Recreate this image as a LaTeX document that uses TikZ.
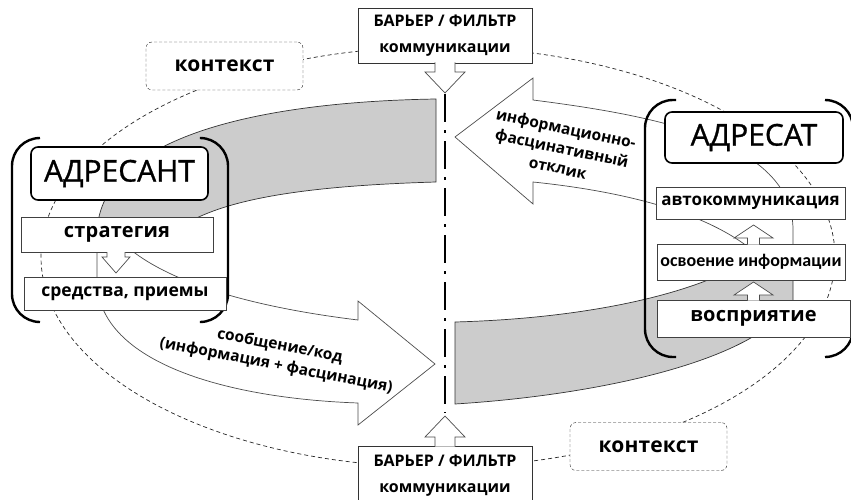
\documentclass[tikz,border=0pt]{standalone}
\usepackage{fontspec}
\setmainfont{Open Sans}
\newfontfamily\narrowfont{Carlito}
\newfontfamily\partyfont[FakeBold=1]{Open Sans}
\usetikzlibrary{calc}

\begin{document}
\begin{tikzpicture}[x=1pt,y=-1pt,
    party/.style={draw,fill=white,rounded corners=7pt,line width=1.6pt,inner sep=0pt,font=\partyfont\fontsize{30}{32}\selectfont},
    box/.style={draw=black!75,fill=white,line width=0.8pt,inner sep=0pt,font=\bfseries\fontsize{17}{19}\selectfont},
    wide/.style={font=\bfseries\fontsize{20}{22}\selectfont\addfontfeature{LetterSpace=1}},
    ctx/.style={draw=black!85,dash pattern=on 3pt off 2pt,fill=white,rounded corners=6pt,inner sep=0pt,minimum width=157pt,minimum height=48pt,font=\bfseries\fontsize{21}{23}\selectfont\addfontfeature{LetterSpace=1}},
    barrier/.style={draw=black!80,fill=white,line width=0.8pt,inner sep=0pt,minimum width=174pt,align=center,font=\bfseries\fontsize{16}{26}\selectfont},
    ctxline/.style={draw=black!85,line width=0.7pt,dash pattern=on 4pt off 3pt},
    band/.style={draw=black!80,fill=gray!40,line width=0.7pt},
    hollow/.style={draw=black!70,fill=white,line width=0.7pt},
    bracket/.style={line width=2.4pt,rounded corners=28pt},
    lbl/.style={align=center,inner sep=0pt,font=\bfseries\fontsize{15.5}{20}\selectfont}]
  \useasboundingbox (0,0) rectangle (851,500);
  \clip (0,0) rectangle (851,500);

  % context
  \draw[ctxline] (438,257) ellipse [x radius=397pt, y radius=210pt];
  \node[ctx] (ctxA) at (224.5,66) {контекст};
  \node[ctx] (ctxB) at (648.5,446.5) {контекст};

  % upper band and message arrow (sender side)
  \path[band] (436,99) .. controls (250,102) and (97,140) .. (97,235) -- (170,235)
    .. controls (210,200) and (300,186) .. (436,182) -- cycle;
  \path[hollow] (97,235) -- (97,280) .. controls (97,360) and (220,398) .. (358,403)
    -- (358,425) -- (435,364) -- (358,301) -- (358,320)
    .. controls (260,308) and (170,285) .. (125,245) -- cycle;

  % response arrow and lower band (addressee side)
  \path[hollow] (533,100) .. controls (650,115) and (793,140) .. (793,230) -- (793,260)
    -- (752,260) -- (752,250) .. controls (700,208) and (610,190) .. (533,182)
    -- (533,204) -- (455,137) -- (533,78) -- cycle;
  \path[band] (455,322) .. controls (600,318) and (700,290) .. (745,262) -- (793,262)
    -- (793,300) .. controls (760,360) and (600,395) .. (455,404) -- cycle;

  % brackets
  \draw[bracket] (40,138) -- (12,138) -- (12,322) -- (40,322);
  \draw[bracket] (202,138) -- (228,138) -- (228,322) -- (202,322);
  \draw[bracket] (676,100) -- (645,100) -- (645,357) -- (676,357);
  \draw[bracket] (825,100) -- (853,100) -- (853,357) -- (825,357);

  % sender
  \node[party,minimum width=177pt,minimum height=53pt] (sender) at (119.5,173.5) {АДРЕСАНТ};
  \node[box,wide,minimum width=192pt,minimum height=35pt] (strat) at (117,234.5) {стратегия};
  \node[box,minimum width=202pt,minimum height=33pt,font=\bfseries\fontsize{17.5}{19}\selectfont] (means) at (125,293.5) {средства, приемы};
  \path[hollow] (107,252) -- (107,257) -- (102,257) -- (116,273) -- (130,257) -- (125,257) -- (125,252);

  % addressee
  \node[party,minimum width=178pt,minimum height=51pt] (addr) at (754,137.5) {АДРЕСАТ};
  \node[box,minimum width=189pt,minimum height=32pt] (auto) at (750.5,203) {автокоммуникация};
  \node[box,minimum width=188pt,minimum height=36pt,font=\narrowfont\bfseries\fontsize{18}{20}\selectfont] (master) at (751,262) {освоение информации};
  \node[box,wide,minimum width=193pt,minimum height=37pt] (percept) at (753.5,318.5) {восприятие};
  \path[hollow] (747.5,244.5) -- (747.5,238) -- (734,238) -- (753.5,225) -- (773,238) -- (759.5,238) -- (759.5,244.5);
  \path[hollow] (747.5,300.5) -- (747.5,295) -- (734,295) -- (753.5,282) -- (773,295) -- (759.5,295) -- (759.5,300.5);

  % barrier
  \node[barrier,minimum height=55pt] (barTop) at (445,35.5) {БАРЬЕР / ФИЛЬТР\\коммуникации};
  \node[barrier,minimum height=60pt] (barBot) at (445,476) {БАРЬЕР / ФИЛЬТР\\коммуникации};
  \path[hollow] (435,62.5) -- (435,72) -- (425,72) -- (445,93) -- (465,72) -- (455,72) -- (455,62.5);
  \path[hollow] (435,446.5) -- (435,437) -- (425,437) -- (445,416) -- (465,437) -- (455,437) -- (455,446.5);
  \draw[line width=2.6pt,dash pattern=on 28pt off 8pt on 3pt off 8pt] (barTop.south) ++(0,31) -- ($(barBot.north)+(0,-33)$);

  % labels
  \node[lbl,rotate=-12] (lblResp) at (562,148) {информационно-\\фасцинативный\\отклик};
  \node[lbl,rotate=-11] (lblMsg) at (278,356) {сообщение/код\\(информация + фасцинация)};
\end{tikzpicture}
\end{document}
